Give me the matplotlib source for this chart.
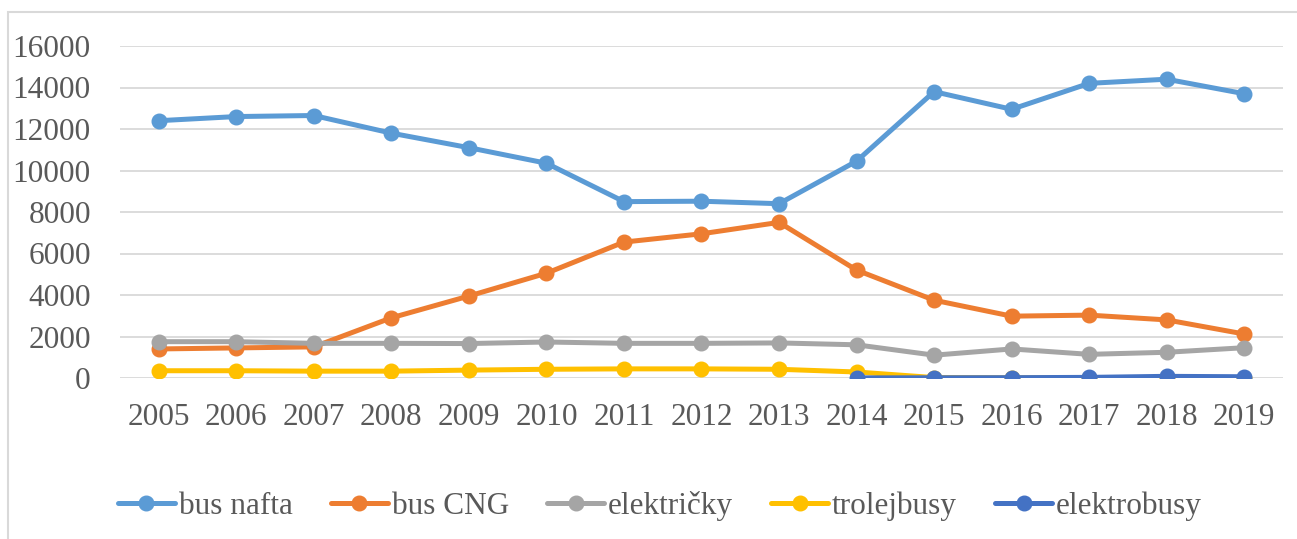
import numpy as np
import matplotlib.pyplot as plt
from matplotlib.patches import Rectangle

roky = [str(r) for r in range(2005, 2020)]

bus_nafta = [12400, 12600, 12650, 11800, 11100, 10350, 8500, 8520, 8400, 10450, 13800, 12950, 14200, 14400, 13700]
bus_cng = [1400, 1450, 1500, 2900, 3950, 5050, 6550, 6950, 7500, 5200, 3750, 2980, 3030, 2800, 2120]
elektricky = [1750, 1750, 1670, 1670, 1660, 1735, 1670, 1670, 1690, 1600, 1100, 1400, 1140, 1240, 1460]
trolejbusy = [350, 350, 330, 330, 380, 420, 440, 440, 420, 290, 20, 10, 10, 5, 5]
elektrobusy = [np.nan] * 9 + [5, 10, 15, 30, 80, 60]

serie = [
    ('bus nafta', bus_nafta, '#5B9BD5'),
    ('bus CNG', bus_cng, '#ED7D31'),
    ('električky', elektricky, '#A5A5A5'),
    ('trolejbusy', trolejbusy, '#FFC000'),
    ('elektrobusy', elektrobusy, '#4472C4'),
]

plt.rcParams['font.family'] = ['Liberation Serif', 'DejaVu Serif']

fig = plt.figure(figsize=(12.97, 5.39), dpi=100)
ax = fig.add_axes([120/1297, 1 - 378/539, (1283 - 120)/1297, (378 - 46)/539])

x = np.arange(len(roky))
for nazov, hodnoty, farba in serie:
    ax.plot(x, hodnoty, color=farba, lw=3.6, marker='o', ms=10.5, label=nazov,
            solid_capstyle='round', zorder=3)

ax.set_xlim(-0.5, len(roky) - 0.5)
ax.set_ylim(0, 16000)
ax.set_yticks(np.arange(0, 16001, 2000))
ax.set_xticks(x)
ax.set_xticklabels(roky)
ax.grid(axis='y', color='#d9d9d9', lw=1.3, zorder=0)
for s in ax.spines.values():
    s.set_visible(False)
ax.tick_params(axis='both', length=0, labelsize=22.5, colors='#595959')
ax.tick_params(axis='y', pad=21)
ax.tick_params(axis='x', pad=18)

leg = fig.legend(loc='center left', bbox_to_anchor=(118/1297, 1 - 506/539), ncol=5,
                 frameon=False, fontsize=22.5, borderpad=0, borderaxespad=0,
                 handlelength=1.82, handletextpad=0.13, columnspacing=1.22)
for t in leg.get_texts():
    t.set_color('#595959')

fig.patches.append(Rectangle((8/1297, -0.01), 1.02, 1 - 12/539 + 0.01, transform=fig.transFigure,
                             fill=False, edgecolor='#d9d9d9', lw=1.5))

fig.savefig('out.png', dpi=100)
